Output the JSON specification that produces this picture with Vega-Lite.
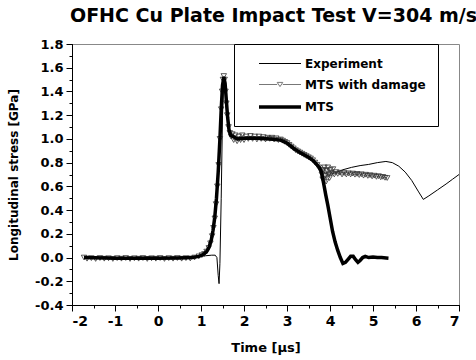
{
  "$schema": "https://vega.github.io/schema/vega-lite/v6.json",
  "width": 387,
  "height": 261,
  "autosize": {"type": "none"},
  "padding": {"left": 72, "top": 44, "right": 17, "bottom": 55},
  "background": "white",
  "title": {
    "text": "OFHC Cu Plate Impact Test V=304 m/s",
    "font": "DejaVu Sans",
    "fontSize": 19,
    "fontWeight": "bold",
    "color": "black",
    "anchor": "middle",
    "dx": 8,
    "offset": 12
  },
  "config": {
    "view": {"stroke": "#888", "strokeWidth": 1},
    "axis": {
      "grid": false,
      "domainColor": "black",
      "domainWidth": 1,
      "tickColor": "black",
      "tickWidth": 1,
      "labelFont": "DejaVu Sans",
      "labelFontWeight": "bold",
      "labelColor": "black",
      "titleFont": "DejaVu Sans",
      "titleFontWeight": "bold",
      "titleColor": "black"
    }
  },
  "datasets": {
    "experiment": [
      {"t": -1.72, "s": 0.01}, {"t": -1.5, "s": 0.0}, {"t": -1.2, "s": 0.005}, {"t": -1.0, "s": 0.0},
      {"t": -0.6, "s": 0.0}, {"t": -0.2, "s": 0.005}, {"t": 0.2, "s": 0.0}, {"t": 0.6, "s": 0.005},
      {"t": 0.9, "s": 0.01}, {"t": 1.1, "s": 0.015}, {"t": 1.25, "s": 0.02}, {"t": 1.33, "s": 0.02},
      {"t": 1.37, "s": 0.0}, {"t": 1.4, "s": -0.15}, {"t": 1.42, "s": -0.22}, {"t": 1.44, "s": -0.05},
      {"t": 1.47, "s": 0.5}, {"t": 1.5, "s": 1.2}, {"t": 1.53, "s": 1.5}, {"t": 1.56, "s": 1.42},
      {"t": 1.6, "s": 1.2}, {"t": 1.65, "s": 1.07}, {"t": 1.72, "s": 1.02}, {"t": 1.8, "s": 1.0},
      {"t": 1.9, "s": 1.02}, {"t": 2.0, "s": 1.0}, {"t": 2.2, "s": 1.01}, {"t": 2.4, "s": 1.0},
      {"t": 2.6, "s": 1.0}, {"t": 2.8, "s": 0.995}, {"t": 2.95, "s": 0.98}, {"t": 3.1, "s": 0.95},
      {"t": 3.3, "s": 0.89}, {"t": 3.5, "s": 0.845}, {"t": 3.65, "s": 0.8}, {"t": 3.75, "s": 0.76},
      {"t": 3.85, "s": 0.72}, {"t": 3.95, "s": 0.7}, {"t": 4.1, "s": 0.71}, {"t": 4.3, "s": 0.74},
      {"t": 4.5, "s": 0.76}, {"t": 4.7, "s": 0.775}, {"t": 4.9, "s": 0.785}, {"t": 5.1, "s": 0.8},
      {"t": 5.3, "s": 0.81}, {"t": 5.45, "s": 0.8}, {"t": 5.6, "s": 0.77}, {"t": 5.75, "s": 0.72},
      {"t": 5.9, "s": 0.65}, {"t": 6.05, "s": 0.56}, {"t": 6.17, "s": 0.49}, {"t": 6.3, "s": 0.52},
      {"t": 6.5, "s": 0.57}, {"t": 6.7, "s": 0.62}, {"t": 6.85, "s": 0.66}, {"t": 7.0, "s": 0.7}
    ],
    "damage": [
      {"t": -1.72, "s": 0.0}, {"t": -1.65, "s": -0.01}, {"t": -1.55, "s": -0.005}, {"t": -1.45, "s": -0.012},
      {"t": -1.35, "s": -0.004}, {"t": -1.25, "s": -0.01}, {"t": -1.15, "s": -0.006}, {"t": -1.05, "s": -0.012},
      {"t": -0.95, "s": -0.005}, {"t": -0.85, "s": -0.01}, {"t": -0.75, "s": -0.004}, {"t": -0.65, "s": -0.012},
      {"t": -0.55, "s": -0.006}, {"t": -0.45, "s": -0.01}, {"t": -0.35, "s": -0.004}, {"t": -0.25, "s": -0.012},
      {"t": -0.15, "s": -0.006}, {"t": -0.05, "s": -0.01}, {"t": 0.05, "s": -0.004}, {"t": 0.15, "s": -0.012},
      {"t": 0.25, "s": -0.005}, {"t": 0.35, "s": -0.01}, {"t": 0.45, "s": -0.004}, {"t": 0.55, "s": -0.01},
      {"t": 0.65, "s": -0.005}, {"t": 0.75, "s": -0.008}, {"t": 0.85, "s": 0.0}, {"t": 0.95, "s": 0.01},
      {"t": 1.02, "s": 0.02}, {"t": 1.08, "s": 0.03}, {"t": 1.13, "s": 0.05}, {"t": 1.18, "s": 0.08},
      {"t": 1.22, "s": 0.12}, {"t": 1.26, "s": 0.18}, {"t": 1.29, "s": 0.25}, {"t": 1.32, "s": 0.33},
      {"t": 1.35, "s": 0.45}, {"t": 1.38, "s": 0.6}, {"t": 1.41, "s": 0.78}, {"t": 1.44, "s": 1.0},
      {"t": 1.47, "s": 1.25}, {"t": 1.49, "s": 1.4}, {"t": 1.51, "s": 1.5}, {"t": 1.53, "s": 1.53},
      {"t": 1.55, "s": 1.5}, {"t": 1.57, "s": 1.4}, {"t": 1.59, "s": 1.3}, {"t": 1.61, "s": 1.2},
      {"t": 1.64, "s": 1.1}, {"t": 1.67, "s": 1.05}, {"t": 1.7, "s": 1.02}, {"t": 1.73, "s": 1.04},
      {"t": 1.76, "s": 0.99}, {"t": 1.8, "s": 1.03}, {"t": 1.84, "s": 0.98}, {"t": 1.88, "s": 1.02},
      {"t": 1.92, "s": 0.99}, {"t": 1.96, "s": 1.03}, {"t": 2.0, "s": 0.99}, {"t": 2.05, "s": 1.02},
      {"t": 2.1, "s": 1.0}, {"t": 2.15, "s": 1.025}, {"t": 2.2, "s": 1.0}, {"t": 2.25, "s": 1.02},
      {"t": 2.3, "s": 0.995}, {"t": 2.35, "s": 1.02}, {"t": 2.4, "s": 1.0}, {"t": 2.45, "s": 1.015},
      {"t": 2.5, "s": 0.995}, {"t": 2.55, "s": 1.01}, {"t": 2.6, "s": 1.0}, {"t": 2.65, "s": 1.01},
      {"t": 2.7, "s": 0.995}, {"t": 2.75, "s": 1.005}, {"t": 2.8, "s": 0.99}, {"t": 2.85, "s": 0.995},
      {"t": 2.9, "s": 0.985}, {"t": 2.95, "s": 0.975}, {"t": 3.0, "s": 0.965}, {"t": 3.05, "s": 0.95},
      {"t": 3.1, "s": 0.935}, {"t": 3.15, "s": 0.92}, {"t": 3.2, "s": 0.905}, {"t": 3.25, "s": 0.895},
      {"t": 3.3, "s": 0.885}, {"t": 3.35, "s": 0.875}, {"t": 3.4, "s": 0.865}, {"t": 3.45, "s": 0.855},
      {"t": 3.5, "s": 0.845}, {"t": 3.55, "s": 0.835}, {"t": 3.6, "s": 0.82}, {"t": 3.65, "s": 0.8},
      {"t": 3.7, "s": 0.78}, {"t": 3.74, "s": 0.76}, {"t": 3.78, "s": 0.735}, {"t": 3.81, "s": 0.7},
      {"t": 3.83, "s": 0.66}, {"t": 3.85, "s": 0.74}, {"t": 3.87, "s": 0.76}, {"t": 3.89, "s": 0.69},
      {"t": 3.91, "s": 0.64}, {"t": 3.93, "s": 0.73}, {"t": 3.95, "s": 0.76}, {"t": 3.97, "s": 0.7},
      {"t": 3.99, "s": 0.67}, {"t": 4.01, "s": 0.74}, {"t": 4.04, "s": 0.71}, {"t": 4.07, "s": 0.745},
      {"t": 4.1, "s": 0.7}, {"t": 4.14, "s": 0.72}, {"t": 4.18, "s": 0.705}, {"t": 4.23, "s": 0.715},
      {"t": 4.28, "s": 0.7}, {"t": 4.33, "s": 0.712}, {"t": 4.38, "s": 0.7}, {"t": 4.43, "s": 0.71},
      {"t": 4.48, "s": 0.7}, {"t": 4.53, "s": 0.708}, {"t": 4.58, "s": 0.698}, {"t": 4.63, "s": 0.705},
      {"t": 4.68, "s": 0.695}, {"t": 4.73, "s": 0.702}, {"t": 4.78, "s": 0.69}, {"t": 4.83, "s": 0.698},
      {"t": 4.88, "s": 0.688}, {"t": 4.93, "s": 0.694}, {"t": 4.98, "s": 0.684}, {"t": 5.03, "s": 0.69},
      {"t": 5.08, "s": 0.68}, {"t": 5.13, "s": 0.686}, {"t": 5.18, "s": 0.676}, {"t": 5.23, "s": 0.68},
      {"t": 5.28, "s": 0.672}, {"t": 5.33, "s": 0.67}
    ],
    "mts": [
      {"t": -1.72, "s": 0.0}, {"t": -1.0, "s": -0.005}, {"t": 0.0, "s": -0.005}, {"t": 0.5, "s": -0.003},
      {"t": 0.8, "s": 0.0}, {"t": 0.95, "s": 0.01}, {"t": 1.05, "s": 0.025}, {"t": 1.13, "s": 0.05},
      {"t": 1.19, "s": 0.09}, {"t": 1.24, "s": 0.15}, {"t": 1.28, "s": 0.23}, {"t": 1.32, "s": 0.34},
      {"t": 1.36, "s": 0.5}, {"t": 1.4, "s": 0.72}, {"t": 1.44, "s": 1.0}, {"t": 1.47, "s": 1.25},
      {"t": 1.5, "s": 1.45}, {"t": 1.53, "s": 1.52}, {"t": 1.56, "s": 1.47}, {"t": 1.59, "s": 1.32},
      {"t": 1.62, "s": 1.18}, {"t": 1.65, "s": 1.08}, {"t": 1.69, "s": 1.03}, {"t": 1.75, "s": 1.02},
      {"t": 1.85, "s": 1.0}, {"t": 2.0, "s": 1.005}, {"t": 2.3, "s": 1.005}, {"t": 2.6, "s": 1.0},
      {"t": 2.85, "s": 0.99}, {"t": 3.0, "s": 0.965}, {"t": 3.15, "s": 0.92}, {"t": 3.3, "s": 0.885},
      {"t": 3.5, "s": 0.845}, {"t": 3.6, "s": 0.82}, {"t": 3.68, "s": 0.79}, {"t": 3.75, "s": 0.76},
      {"t": 3.8, "s": 0.72}, {"t": 3.85, "s": 0.63}, {"t": 3.9, "s": 0.53}, {"t": 3.95, "s": 0.44},
      {"t": 4.0, "s": 0.34}, {"t": 4.06, "s": 0.22}, {"t": 4.12, "s": 0.13}, {"t": 4.18, "s": 0.06},
      {"t": 4.24, "s": 0.0}, {"t": 4.3, "s": -0.05}, {"t": 4.36, "s": -0.04}, {"t": 4.42, "s": -0.015},
      {"t": 4.48, "s": 0.01}, {"t": 4.54, "s": 0.01}, {"t": 4.6, "s": -0.02}, {"t": 4.65, "s": -0.04},
      {"t": 4.7, "s": -0.025}, {"t": 4.76, "s": 0.0}, {"t": 4.82, "s": 0.01}, {"t": 4.9, "s": 0.0},
      {"t": 5.0, "s": 0.005}, {"t": 5.1, "s": 0.0}, {"t": 5.2, "s": 0.0}, {"t": 5.36, "s": -0.005}
    ],
    "legend": [
      {"series": "Experiment"}, {"series": "MTS with damage"}, {"series": "MTS"}
    ]
  },
  "resolve": {"axis": {"x": "independent", "y": "independent"}},
  "layer": [
    {
      "data": {"name": "experiment"},
      "mark": {"type": "line", "color": "black", "strokeWidth": 1},
      "encoding": {
        "x": {"field": "t", "type": "quantitative", "scale": {"domain": [-2, 7], "nice": false, "zero": false},
          "axis": {"orient": "bottom", "values": [-2, -1.5, -1, -0.5, 0, 0.5, 1, 1.5, 2, 2.5, 3, 3.5, 4, 4.5, 5, 5.5, 6, 6.5, 7], "tickSize": 3, "labels": false, "title": null}},
        "y": {"field": "s", "type": "quantitative", "scale": {"domain": [-0.4, 1.8], "nice": false, "zero": false},
          "axis": {"orient": "left", "values": [-0.4, -0.3, -0.2, -0.1, 0, 0.1, 0.2, 0.3, 0.4, 0.5, 0.6, 0.7, 0.8, 0.9, 1.0, 1.1, 1.2, 1.3, 1.4, 1.5, 1.6, 1.7, 1.8], "tickSize": 3, "labels": false, "title": null}}
      }
    },
    {
      "data": {"name": "damage"},
      "mark": {"type": "line", "color": "#777", "strokeWidth": 1},
      "encoding": {
        "x": {"field": "t", "type": "quantitative", "scale": {"domain": [-2, 7], "nice": false, "zero": false},
          "axis": {"orient": "bottom", "values": [-2, -1, 0, 1, 2, 3, 4, 5, 6, 7], "tickSize": 6, "labelFontSize": 14, "labelPadding": 3,
            "labelExpr": "replace(format(datum.value, 'd'), '\u2212', '-')",
            "title": "Time [μs]", "titleFontSize": 13, "titlePadding": 13}},
        "y": {"field": "s", "type": "quantitative", "scale": {"domain": [-0.4, 1.8], "nice": false, "zero": false},
          "axis": {"orient": "left", "values": [-0.4, -0.2, 0, 0.2, 0.4, 0.6, 0.8, 1.0, 1.2, 1.4, 1.6, 1.8], "tickSize": 6, "labelFontSize": 13, "labelPadding": 3,
            "labelExpr": "replace(format(datum.value, '.1f'), '\u2212', '-')",
            "title": "Longitudinal stress [GPa]", "titleFontSize": 12, "titlePadding": 14}}
      }
    },
    {
      "data": {"name": "damage"},
      "mark": {"type": "point", "shape": "triangle-down", "filled": false, "color": "#333", "strokeWidth": 0.8, "size": 30, "opacity": 1},
      "encoding": {
        "x": {"field": "t", "type": "quantitative", "scale": {"domain": [-2, 7], "nice": false, "zero": false}, "axis": null},
        "y": {"field": "s", "type": "quantitative", "scale": {"domain": [-0.4, 1.8], "nice": false, "zero": false}, "axis": null}
      }
    },
    {
      "data": {"name": "mts"},
      "mark": {"type": "line", "color": "black", "strokeWidth": 3.5},
      "encoding": {
        "x": {"field": "t", "type": "quantitative", "scale": {"domain": [-2, 7], "nice": false, "zero": false}, "axis": null},
        "y": {"field": "s", "type": "quantitative", "scale": {"domain": [-0.4, 1.8], "nice": false, "zero": false}, "axis": null}
      }
    },
    {
      "data": {"name": "legend"},
      "mark": {"type": "point", "filled": false, "opacity": 0},
      "encoding": {
        "color": {
          "field": "series", "type": "nominal",
          "scale": {"domain": ["Experiment", "MTS with damage", "MTS"], "range": ["black", "#777", "black"]}
        },
        "strokeWidth": {
          "field": "series", "type": "nominal",
          "scale": {"type": "ordinal", "domain": ["Experiment", "MTS with damage", "MTS"], "range": [1, 1, 3.5]}
        },
        "shape": {
          "field": "series", "type": "nominal",
          "scale": {
            "domain": ["Experiment", "MTS with damage", "MTS"],
            "range": ["M-3,0H3", "M-3,0H-0.4M0.4,0H3M-0.4,-0.3H0.4L0,0.3Z", "M-3,0H3"]
          },
          "legend": {
            "orient": "none", "legendX": 162, "legendY": 0,
            "title": null, "padding": 12,
            "strokeColor": "black", "fillColor": "white",
            "symbolSize": 196, "symbolOffset": 25, "symbolOpacity": 1,
            "labelFont": "DejaVu Sans", "labelFontSize": 12, "labelFontWeight": "bold", "labelColor": "black",
            "labelOffset": 16, "rowPadding": 7
          }
        }
      }
    }
  ]
}
